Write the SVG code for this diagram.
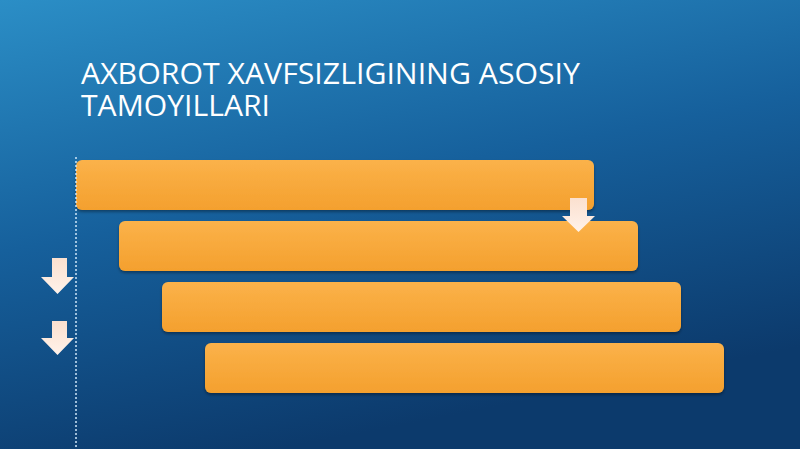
<svg xmlns="http://www.w3.org/2000/svg" width="800" height="449" viewBox="0 0 800 449">
<defs>
<linearGradient id="bg" x1="0" y1="0" x2="0.35" y2="1">
<stop offset="0" stop-color="#2b8ec6"/>
<stop offset="0.5" stop-color="#16609c"/>
<stop offset="1" stop-color="#0c3a6c"/>
</linearGradient>
<linearGradient id="box" x1="0" y1="0" x2="0" y2="1">
<stop offset="0" stop-color="#fbb24a"/>
<stop offset="1" stop-color="#f4a02e"/>
</linearGradient>
<linearGradient id="arr" x1="0" y1="0" x2="0" y2="1">
<stop offset="0" stop-color="#fbe0cf"/>
<stop offset="1" stop-color="#fff2ea"/>
</linearGradient>
<filter id="sh" x="-5%" y="-20%" width="110%" height="150%">
<feDropShadow dx="0" dy="2" stdDeviation="1.5" flood-color="#000" flood-opacity="0.35"/>
</filter>
</defs>
<style>
.title{font-family:"Open Sans","Noto Sans","Liberation Sans",sans-serif;font-size:29px;fill:#ffffff;}
.box{fill:url(#box);filter:url(#sh);}
.arrow{fill:url(#arr);}
</style>
<rect width="800" height="449" fill="url(#bg)"/>
<g id="title">
<text class="title" x="81" y="84" textLength="499" lengthAdjust="spacingAndGlyphs">AXBOROT XAVFSIZLIGINING ASOSIY</text>
<text class="title" x="81" y="116" textLength="189" lengthAdjust="spacingAndGlyphs">TAMOYILLARI</text>
</g>
<g id="node1"><rect class="box" x="76" y="160" width="518" height="50" rx="6"/></g>
<g id="node2"><rect class="box" x="119" y="221" width="519" height="50" rx="6"/></g>
<g id="node3"><rect class="box" x="162" y="282" width="519" height="50" rx="6"/></g>
<g id="node4"><rect class="box" x="205" y="343" width="519" height="50" rx="6"/></g>
<g id="connectors">
<line x1="76" y1="157" x2="76" y2="449" stroke="#cfe6f7" stroke-width="1.5" stroke-dasharray="2 2"/>
<path class="arrow" d="M570 198 H587 V216 H595 L578.5 232 L562 216 H570 Z"/>
<path class="arrow" d="M52 258 H67 V277 H74 L57.5 294 L41 277 H52 Z"/>
<path class="arrow" d="M52 321 H67 V338 H74 L57.5 355 L41 338 H52 Z"/>
</g>
</svg>
